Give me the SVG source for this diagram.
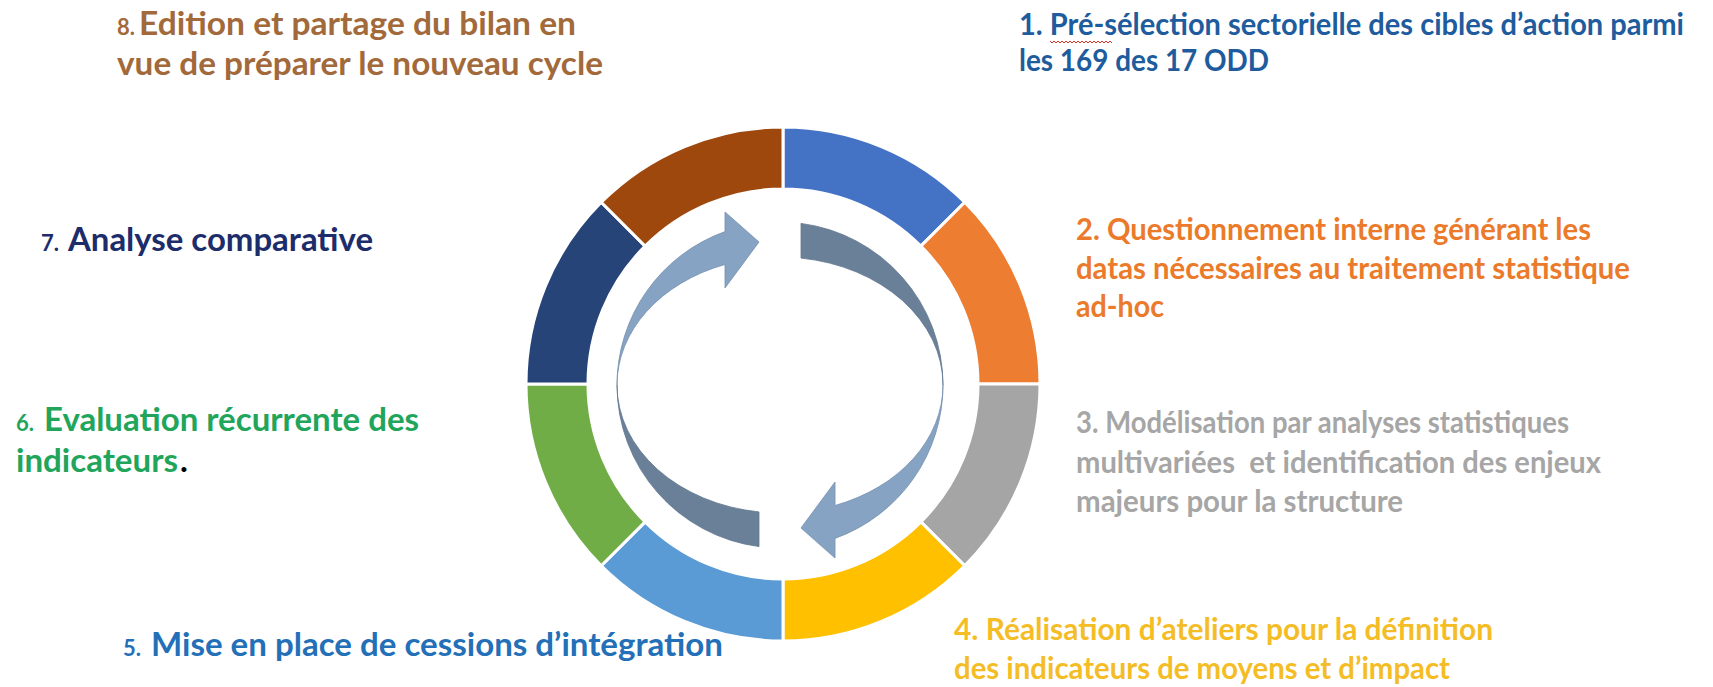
<svg xmlns="http://www.w3.org/2000/svg" width="1713" height="687" viewBox="0 0 1713 687">
<style>
.t{font-family:Lato,"Liberation Sans",sans-serif;font-weight:bold}
.s31{font-size:29.5px}
.s35{font-size:33px}
.n{font-size:22px}
.seg{stroke:#fff;stroke-width:3;stroke-linejoin:miter}
.al{fill:#86A3C3;stroke:#7590AE;stroke-width:0.8}
.ad{fill:#6A8099;stroke:#62778F;stroke-width:0.8}
</style>
<rect width="1713" height="687" fill="#fff"/>
<g id="step1">
<path class="seg" fill="#4472C4" d="M783,127 A257,257 0 0 1 964.73,202.27 L920.89,246.11 A195,195 0 0 0 783,189 Z"/>
<text class="t s31" fill="#1E5C9E" x="1019" y="35" textLength="665" lengthAdjust="spacingAndGlyphs">1. Pré-sélection sectorielle des cibles d’action parmi</text>
<text class="t s31" fill="#1E5C9E" x="1019" y="71" textLength="250" lengthAdjust="spacingAndGlyphs">les 169 des 17 ODD</text>
<path d="M1050,41 l2,2 l2,-2 l2,2 l2,-2 l2,2 l2,-2 l2,2 l2,-2 l2,2 l2,-2 l2,2 l2,-2 l2,2 l2,-2 l2,2 l2,-2 l2,2 l2,-2 l2,2 l2,-2 l2,2 l2,-2 l2,2 l2,-2 l2,2 l2,-2 l2,2 l2,-2 l2,2 l2,-2 l2,2" fill="none" stroke="#E0302A" stroke-width="1"/>
</g>
<g id="step2">
<path class="seg" fill="#ED7D31" d="M964.73,202.27 A257,257 0 0 1 1040,384 L978,384 A195,195 0 0 0 920.89,246.11 Z"/>
<text class="t s31" fill="#EB7A2A" x="1076" y="240" textLength="515" lengthAdjust="spacingAndGlyphs">2. Questionnement interne générant les</text>
<text class="t s31" fill="#EB7A2A" x="1076" y="279" textLength="554" lengthAdjust="spacingAndGlyphs">datas nécessaires au traitement statistique</text>
<text class="t s31" fill="#EB7A2A" x="1076" y="317" textLength="88" lengthAdjust="spacingAndGlyphs">ad-hoc</text>
</g>
<g id="step3">
<path class="seg" fill="#A5A5A5" d="M1040,384 A257,257 0 0 1 964.73,565.73 L920.89,521.89 A195,195 0 0 0 978,384 Z"/>
<text class="t s31" fill="#A6A6A6" x="1076" y="433" textLength="493" lengthAdjust="spacingAndGlyphs">3. Modélisation par analyses statistiques</text>
<text class="t s31" fill="#A6A6A6" x="1076" y="473" textLength="525" lengthAdjust="spacingAndGlyphs" xml:space="preserve">multivariées  et identification des enjeux</text>
<text class="t s31" fill="#A6A6A6" x="1076" y="512" textLength="327" lengthAdjust="spacingAndGlyphs">majeurs pour la structure</text>
</g>
<g id="step4">
<path class="seg" fill="#FFC000" d="M964.73,565.73 A257,257 0 0 1 783,641 L783,579 A195,195 0 0 0 920.89,521.89 Z"/>
<text class="t s31" fill="#F4BD26" x="954" y="640" textLength="539" lengthAdjust="spacingAndGlyphs">4. Réalisation d’ateliers pour la définition</text>
<text class="t s31" fill="#F4BD26" x="954" y="679" textLength="496" lengthAdjust="spacingAndGlyphs">des indicateurs de moyens et d’impact</text>
</g>
<g id="step5">
<path class="seg" fill="#5B9BD5" d="M783,641 A257,257 0 0 1 601.27,565.73 L645.11,521.89 A195,195 0 0 0 783,579 Z"/>
<text class="t n" fill="#2370B8" x="123" y="656">5.</text>
<text class="t s35" fill="#2370B8" x="151" y="656" textLength="572" lengthAdjust="spacingAndGlyphs">Mise en place de cessions d’intégration</text>
</g>
<g id="step6">
<path class="seg" fill="#70AD47" d="M601.27,565.73 A257,257 0 0 1 526,384 L588,384 A195,195 0 0 0 645.11,521.89 Z"/>
<text class="t n" fill="#21A55A" x="16" y="431">6.</text>
<text class="t s35" fill="#21A55A" x="44" y="431" textLength="375" lengthAdjust="spacingAndGlyphs">Evaluation récurrente des</text>
<text class="t s35" fill="#21A55A" x="16" y="472" textLength="162" lengthAdjust="spacingAndGlyphs">indicateurs</text>
<text class="t s35" fill="#000" x="180" y="472">.</text>
</g>
<g id="step7">
<path class="seg" fill="#264478" d="M526,384 A257,257 0 0 1 601.27,202.27 L645.11,246.11 A195,195 0 0 0 588,384 Z"/>
<text class="t n" fill="#1D2C6A" x="41" y="251">7.</text>
<text class="t s35" fill="#1D2C6A" x="68" y="251" textLength="305" lengthAdjust="spacingAndGlyphs">Analyse comparative</text>
</g>
<g id="step8">
<path class="seg" fill="#9E480E" d="M601.27,202.27 A257,257 0 0 1 783,127 L783,189 A195,195 0 0 0 645.11,246.11 Z"/>
<text class="t n" fill="#A2693A" x="117" y="35">8.</text>
<text class="t s35" fill="#A2693A" x="139" y="35" textLength="437" lengthAdjust="spacingAndGlyphs">Edition et partage du bilan en</text>
<text class="t s35" fill="#A2693A" x="117" y="75" textLength="486" lengthAdjust="spacingAndGlyphs">vue de préparer le nouveau cycle</text>
</g>
<g id="connectors">
<g id="arrow-left">
<path class="ad" d="M759,546.6 A163,163 0 0 1 617,385 A163,128 0 0 0 759,511.9 Z"/>
<path class="al" d="M617,385 A163,163 0 0 1 725,231.6 L725,212 L759,242 L725,288 L725,264.5 A163,128 0 0 0 617,385 Z"/>
</g>
<g id="arrow-right" transform="rotate(180 780 385)">
<path class="ad" d="M759,546.6 A163,163 0 0 1 617,385 A163,128 0 0 0 759,511.9 Z"/>
<path class="al" d="M617,385 A163,163 0 0 1 725,231.6 L725,212 L759,242 L725,288 L725,264.5 A163,128 0 0 0 617,385 Z"/>
</g>
</g>
</svg>
